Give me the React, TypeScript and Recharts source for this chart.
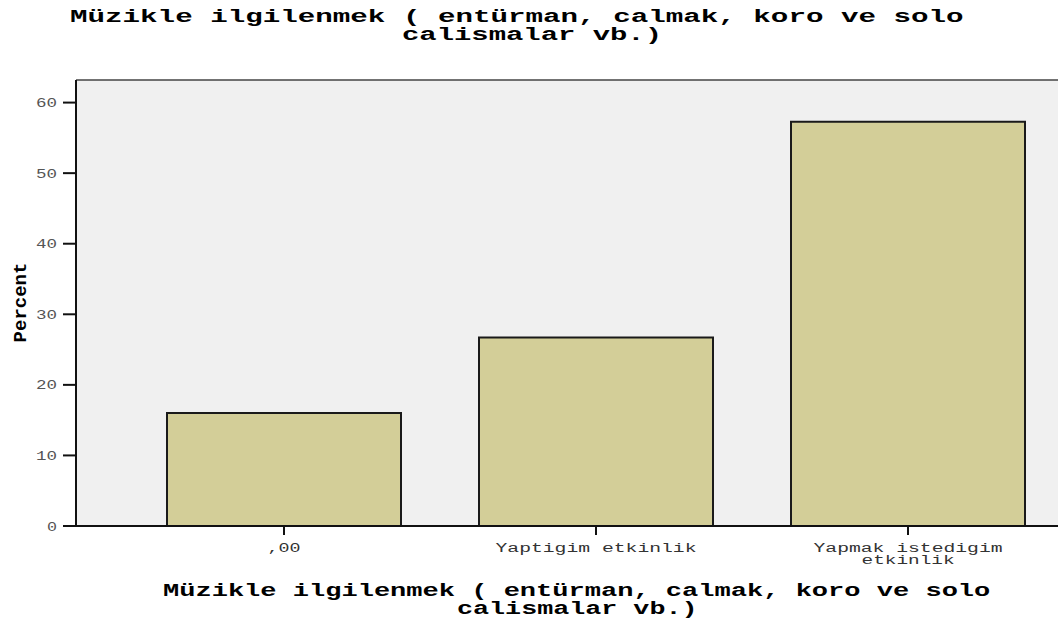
import React from 'react';
import { BarChart, Bar, XAxis, YAxis, CartesianGrid } from 'recharts';

const categories = [',00', 'Yaptigim etkinlik', 'Yapmak istedigim etkinlik'];
const percents = [16.0, 26.7, 57.3];
const yTicks = [0, 10, 20, 30, 40, 50, 60];
const titleLines = ['Müzikle ilgilenmek ( entürman, calmak, koro ve solo', 'calismalar vb.)'];
const xAxisTitleLines = ['Müzikle ilgilenmek ( entürman, calmak, koro ve solo', 'calismalar vb.)'];
const yAxisTitle = 'Percent';

const data = categories.map((c, i) => ({ category: c, percent: percents[i] }));

const MONO = "'Liberation Mono', 'Courier New', monospace";
const TICK_CW = 12;
const YTICK_CW = 11;

function wrap(s: string, max: number): string[] {
  const words = s.split(' ');
  const lines: string[] = [];
  let cur = '';
  for (const w of words) {
    const cand = cur ? cur + ' ' + w : w;
    if (cand.length > max && cur) {
      lines.push(cur);
      cur = w;
    } else cur = cand;
  }
  if (cur) lines.push(cur);
  return lines;
}

const XTick = (props: any) => {
  const { x, y, payload } = props;
  const lines = wrap(String(payload.value), 20);
  return (
    <g>
      {lines.map((ln, i) => (
        <text
          key={i}
          x={x}
          y={y + 17 + i * 12}
          textAnchor="middle"
          fontFamily={MONO}
          fontSize={12}
          fill="#333"
          textLength={ln.length * TICK_CW - 3}
          lengthAdjust="spacingAndGlyphs"
        >
          {ln}
        </text>
      ))}
    </g>
  );
};

const YTick = (props: any) => {
  const { x, y, payload } = props;
  const s = String(payload.value);
  return (
    <text
      x={x}
      y={y + 4.5}
      textAnchor="end"
      fontFamily={MONO}
      fontSize={13}
      fill="#555"
      textLength={s.length * YTICK_CW - 1}
      lengthAdjust="spacingAndGlyphs"
    >
      {s}
    </text>
  );
};

const BoldLine = ({ x, y, text, cw, size }: { x: number; y: number; text: string; cw: number; size: number }) => (
  <text
    x={x}
    y={y}
    fontFamily={MONO}
    fontWeight="bold"
    fontSize={size}
    fill="#000"
    textLength={text.length * cw - 4}
    lengthAdjust="spacingAndGlyphs"
  >
    {text}
  </text>
);

export default function App() {
  return (
    <div
      style={{
        position: 'absolute',
        left: 0,
        top: 0,
        width: 1058,
        height: 626,
        overflow: 'hidden',
        background: '#fff',
      }}
    >
      <BarChart
        width={1064}
        height={626}
        data={data}
        margin={{ top: 80, right: 0, bottom: 0, left: 0 }}
        barCategoryGap="12.5%"
      >
        <CartesianGrid
          vertical={false}
          fill="#f0f0f0"
          stroke="#444"
          strokeWidth={1.5}
          horizontalCoordinatesGenerator={({ offset }: any) => [offset.top]}
        />
        <XAxis
          dataKey="category"
          height={100}
          padding={{ left: 52, right: 0 }}
          tickSize={9}
          tickMargin={0}
          interval={0}
          axisLine={{ stroke: '#111', strokeWidth: 2 }}
          tickLine={{ stroke: '#111', strokeWidth: 2 }}
          tick={<XTick />}
        />
        <YAxis
          width={76}
          domain={[0, 63.2]}
          ticks={yTicks}
          interval={0}
          tickSize={13}
          tickMargin={6}
          axisLine={{ stroke: '#111', strokeWidth: 2 }}
          tickLine={{ stroke: '#111', strokeWidth: 2 }}
          tick={<YTick />}
        />
        <Bar
          dataKey="percent"
          fill="#d3ce98"
          stroke="#1a1a1a"
          strokeWidth={2}
          isAnimationActive={false}
        />
      </BarChart>
      <svg
        width={1058}
        height={626}
        style={{ position: 'absolute', left: 0, top: 0, pointerEvents: 'none' }}
      >
        <BoldLine x={70} y={21.5} text={titleLines[0]} cw={17.6} size={18} />
        <BoldLine x={402} y={39.5} text={titleLines[1]} cw={17.6} size={18} />
        <BoldLine x={163} y={595.5} text={xAxisTitleLines[0]} cw={16.3} size={18} />
        <BoldLine x={457} y={613.5} text={xAxisTitleLines[1]} cw={16.3} size={18} />
        <text
          x={26}
          y={302.5}
          transform="rotate(-90, 26, 302.5)"
          textAnchor="middle"
          fontFamily={MONO}
          fontWeight="bold"
          fontSize={19}
          fill="#000"
          textLength={yAxisTitle.length * 11.7 - 2}
          lengthAdjust="spacingAndGlyphs"
        >
          {yAxisTitle}
        </text>
      </svg>
    </div>
  );
}
